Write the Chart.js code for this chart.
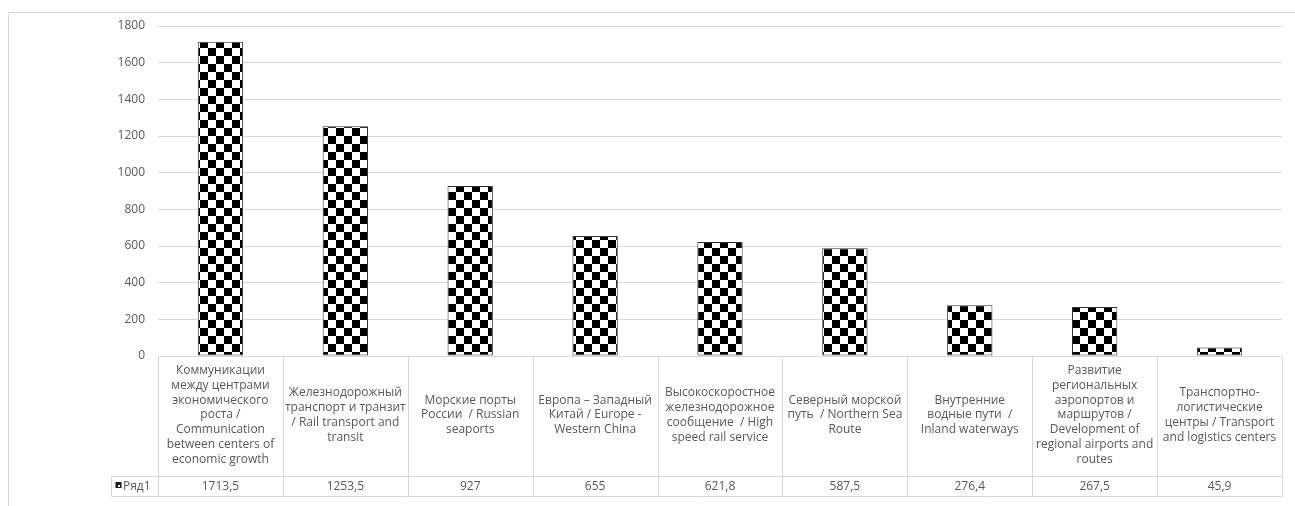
<!DOCTYPE html>
<html>
<head>
<meta charset="utf-8">
<script src="https://cdn.jsdelivr.net/npm/chart.js@4.4.1/dist/chart.umd.min.js"></script>
<style>
  html, body { margin: 0; padding: 0; background: #ffffff; }
  #wrap { position: relative; width: 1295px; height: 506px; }
</style>
</head>
<body>
<div id="wrap"><canvas id="chart" width="1295" height="506"></canvas></div>
<script>
// Categories (wrapped as shown in the data table under the plot)
const categories = [
  ['Коммуникации', 'между центрами', 'экономического', 'роста /', 'Communication', 'between centers of', 'economic growth'],
  ['Железнодорожный', 'транспорт и транзит', '/ Rail transport and', 'transit'],
  ['Морские порты', 'России  / Russian', 'seaports'],
  ['Европа – Западный', 'Китай / Europe -', 'Western China'],
  ['Высокоскоростное', 'железнодорожное', 'сообщение  / High', 'speed rail service'],
  ['Северный морской', 'путь  / Northern Sea', 'Route'],
  ['Внутренние', 'водные пути  /', 'Inland waterways'],
  ['Развитие', 'региональных', 'аэропортов и', 'маршрутов /', 'Development of', 'regional airports and', 'routes'],
  ['Транспортно-', 'логистические', 'центры / Transport', 'and logistics centers']
];
const seriesName = 'Ряд1';
const seriesValues = [1713.5, 1253.5, 927, 655, 621.8, 587.5, 276.4, 267.5, 45.9];
const yTicks = [0, 200, 400, 600, 800, 1000, 1200, 1400, 1600, 1800];

const TEXT = '#595959';
const LINE = '#d9d9d9';
const FONT = '"Open Sans", "Noto Sans", sans-serif';

const canvas = document.getElementById('chart');
const ctx = canvas.getContext('2d');

// Black/white checkerboard fill for the bars
function checkerboard(size) {
  const c = document.createElement('canvas');
  c.width = size * 2; c.height = size * 2;
  const g = c.getContext('2d');
  g.fillStyle = '#ffffff';
  g.fillRect(0, 0, size * 2, size * 2);
  g.fillStyle = '#000000';
  g.fillRect(0, 0, size, size);
  g.fillRect(size, size, size, size);
  return ctx.createPattern(c, 'repeat');
}
const checker = checkerboard(8);

function formatValue(v) {
  return String(v).replace('.', ',');
}

// Data table under the plot: category row, value row, series key
const dataTable = {
  id: 'dataTable',
  afterDraw(chart) {
    const c = chart.ctx;
    const x = chart.scales.x;
    const area = chart.chartArea;
    const n = categories.length;
    const step = (area.right - area.left) / n;
    const top = Math.round(area.bottom) + 0.5;
    const mid = 476.5;
    const bot = 496.5;
    const keyLeft = 111.5;

    c.save();
    c.strokeStyle = LINE;
    c.lineWidth = 1;

    // outer frame of the chart object
    c.beginPath();
    c.moveTo(8.5, 506); c.lineTo(8.5, 12.5); c.lineTo(1295, 12.5);
    c.stroke();

    c.beginPath();
    c.moveTo(area.left, top); c.lineTo(area.right, top);
    c.moveTo(keyLeft, mid); c.lineTo(area.right, mid);
    c.moveTo(keyLeft, bot); c.lineTo(area.right, bot);
    c.moveTo(keyLeft, mid); c.lineTo(keyLeft, bot);
    for (let i = 0; i <= n; i++) {
      const px = Math.round(area.left + i * step) + 0.5;
      c.moveTo(px, top); c.lineTo(px, bot);
    }
    c.stroke();

    c.fillStyle = TEXT;
    c.font = '12px ' + FONT;
    c.textAlign = 'center';
    c.textBaseline = 'middle';
    const lh = 14.8;
    const rowCenter = 415;
    for (let i = 0; i < n; i++) {
      const cx = x.getPixelForValue(i);
      const lines = categories[i];
      const y0 = rowCenter - (lines.length - 1) * lh / 2;
      lines.forEach((t, k) => c.fillText(t, cx, y0 + k * lh));
      c.fillText(formatValue(seriesValues[i]), cx, 486.5);
    }

    // series key
    c.fillStyle = '#1a1a1a';
    c.fillRect(115.5, 482, 6, 6);
    c.fillStyle = '#ffffff';
    c.fillRect(118, 485, 2, 2);
    c.fillStyle = TEXT;
    c.textAlign = 'left';
    c.fillText(seriesName, 123, 486.5);
    c.restore();
  }
};

new Chart(canvas, {
  type: 'bar',
  data: {
    labels: categories,
    datasets: [{
      label: seriesName,
      data: seriesValues,
      backgroundColor: checker,
      borderColor: '#333333',
      borderWidth: 1,
      borderSkipped: false,
      categoryPercentage: 1,
      barPercentage: 0.363
    }]
  },
  options: {
    responsive: false,
    animation: false,
    layout: { padding: { left: 0, top: 26, right: 13, bottom: 150 } },
    plugins: { legend: { display: false }, tooltip: { enabled: false } },
    scales: {
      x: { display: false },
      y: {
        min: 0,
        max: 1800,
        afterFit(scale) { scale.width = 158; },
        afterBuildTicks(scale) { scale.ticks = yTicks.map(v => ({ value: v })); },
        border: { display: false },
        grid: { color: LINE, drawTicks: false, lineWidth: 1 },
        ticks: {
          padding: 13,
          color: TEXT,
          font: { family: FONT, size: 12 },
          callback: (v) => String(v)
        }
      }
    }
  },
  plugins: [dataTable]
});
</script>
</body>
</html>
